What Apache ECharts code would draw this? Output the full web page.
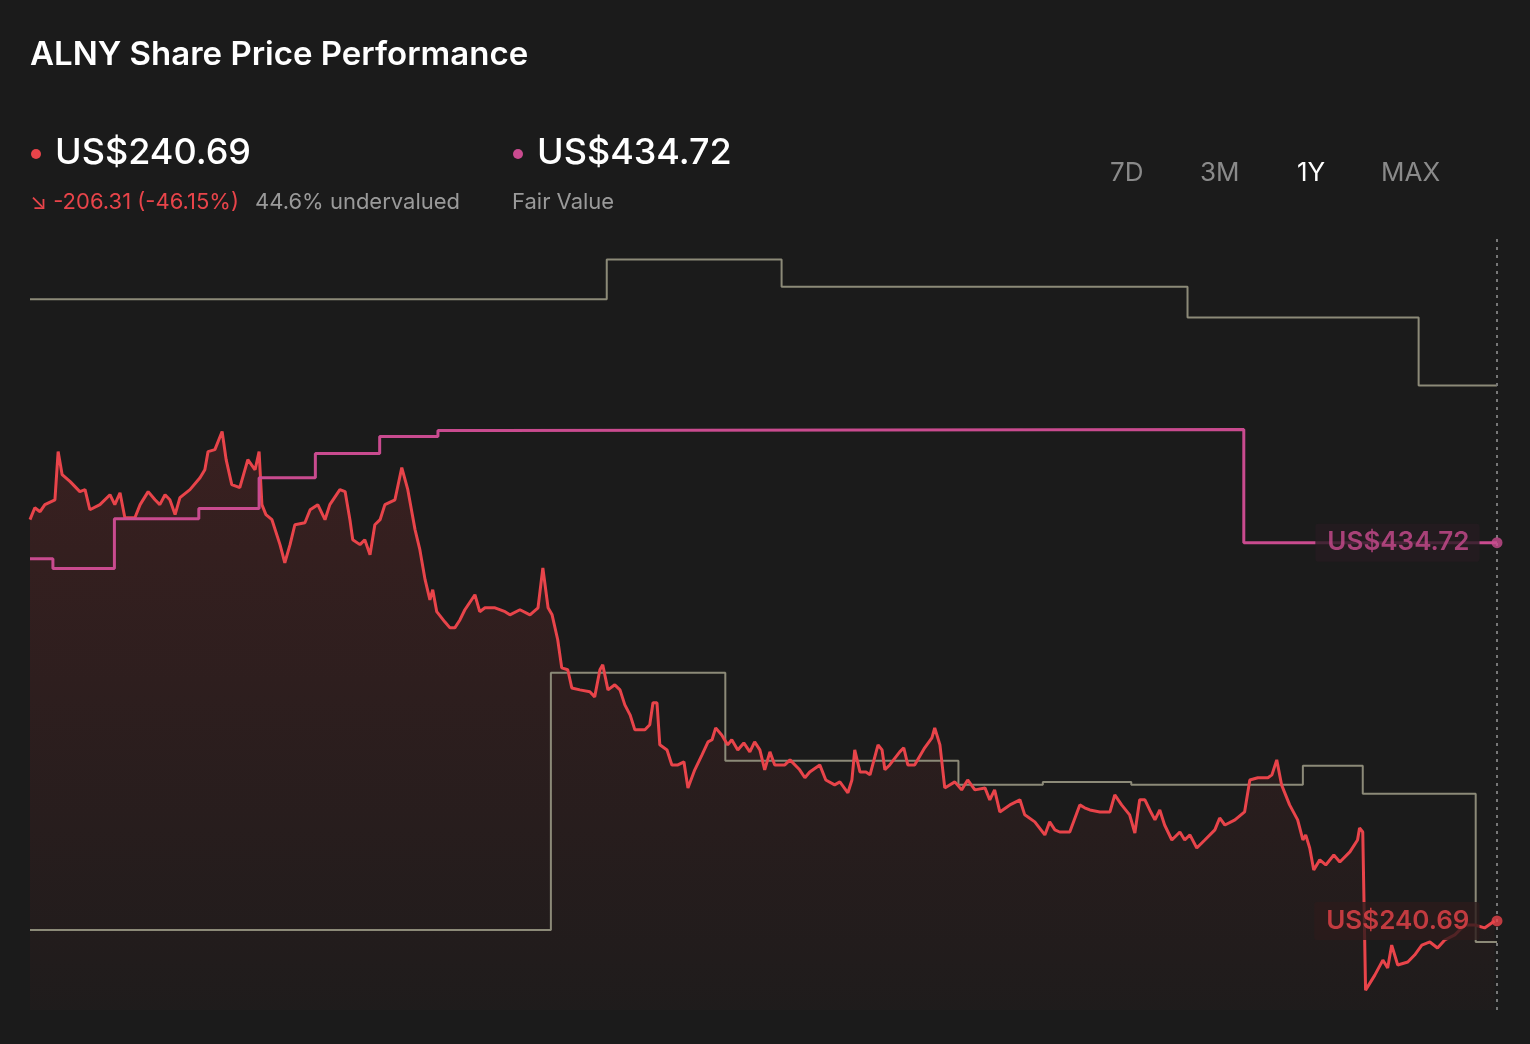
<!DOCTYPE html>
<html><head><meta charset="utf-8">
<script src="https://cdn.jsdelivr.net/npm/echarts@6/dist/echarts.min.js"></script>
<style>html,body{margin:0;background:#1b1b1b}#c{width:1530px;height:1044px}</style>
</head><body><div id="c"></div>
<script>
const priceDays=[0,1.2,2.5,3.7,6.2,7,8,10,12.4,13.7,14.9,17.4,19.9,21.1,22.4,23.6,26.1,27.4,29.4,31.1,32.3,33.6,34.8,36.1,37.3,39.8,42.3,43.5,44.3,46,47.8,48.8,50.2,52.2,54.2,56,57,57.7,58.7,60.2,62.2,63.4,64.7,65.9,68.4,69.7,71.6,73.4,74.6,77.1,78.4,79.6,80.3,82.1,83.3,84.6,85.8,87.1,88.3,90.8,92.5,94,95.8,97,98.3,99.5,100.2,101.2,103.2,104.5,105.7,107,108.2,110.7,111.9,113.2,115.7,118.2,119.4,121.9,124.4,126.4,127.6,128.9,129.9,131.3,132.3,133.8,134.8,136.8,139.3,140.5,141.8,142.5,143.8,145.5,146.8,148,149.3,150.5,153,154.2,155,156,156.7,158.5,159.7,161.2,162.7,163.7,165.4,167.2,168.7,169.7,170.6,172.1,173.6,174.6,176.1,177.6,179.1,180.3,181.6,182.8,184.1,185.3,187.8,189.1,191.5,192.8,194,196.5,198,200.2,201.5,203.5,204.5,205.2,206.5,208,209,211,212,212.7,213.9,216.4,217.4,218.4,220.1,222.6,224.4,225.1,226.4,227.6,230.1,231.8,233.3,235.1,237.6,238.8,240,241.3,243.8,246.3,247.5,250,252.5,253.7,255,256.2,258.7,261.2,262.4,263.7,266.2,268.7,269.9,271.6,273.6,274.9,276.1,277.4,278.6,279.9,281.1,282.3,284.1,286.1,287.3,288.6,290.3,292.3,294.8,296,297.3,299.8,302.2,303.5,305.5,308,309,310.2,311.4,313.4,315.4,316.7,317.4,318.4,319.4,320.9,322.4,324.4,325.9,328.4,330.3,330.8,331.6,332.3,334.6,336.6,337.8,338.8,340.3,342.8,344.5,346.3,348.3,350.2,352,354.5,357,359.5,361.9,364.4];
const priceValues=[446.5,452.6,450.6,454.2,456.7,481.4,469.6,466.0,460.9,461.9,451.6,454.2,459.3,454.2,460.3,447.5,447.5,454.2,460.9,456.7,454.2,459.3,456.7,449.1,457.8,461.9,468.0,472.1,481.4,482.4,491.7,477.3,464.5,462.9,477.3,472.1,481.4,454.2,449.1,446.5,433.7,424.4,433.7,443.9,444.9,451.6,454.2,446.5,454.2,461.9,460.9,446.5,436.2,433.7,436.2,428.5,443.9,446.5,454.2,456.7,473.2,461.9,441.4,431.1,415.7,405.4,410.6,399.3,394.1,391.0,391.0,395.2,400.3,408.0,399.3,401.3,401.3,399.3,397.7,400.3,397.7,401.3,421.8,401.3,397.7,384.9,370.5,369.5,360.2,359.2,358.2,355.6,369.5,372.1,359.2,361.8,359.2,351.5,346.4,338.7,338.7,341.3,352.6,352.6,331.0,328.4,320.7,320.7,322.3,308.9,318.2,325.9,332.5,333.6,339.7,336.1,331.0,333.6,328.4,332.0,327.4,332.5,328.4,318.2,327.4,320.7,320.7,323.3,318.2,314.1,317.1,320.7,313.0,310.5,312.0,306.4,313.0,328.4,317.1,317.1,315.6,331.0,328.4,318.2,320.7,327.4,329.5,320.7,320.7,329.5,334.6,339.7,331.0,308.9,312.0,307.9,313.0,307.9,308.9,302.8,307.9,296.6,300.2,302.8,295.1,291.5,284.8,291.5,287.4,286.3,286.3,300.2,298.7,297.6,296.6,296.6,305.3,300.2,295.1,285.8,302.8,302.8,297.6,292.5,297.6,289.9,282.2,286.3,282.2,284.8,278.1,282.2,287.4,293.5,289.9,292.5,296.6,313.0,314.1,314.1,315.6,323.3,310.5,300.2,292.5,282.2,284.8,278.1,266.8,272.0,269.4,274.5,270.9,276.1,282.2,288.4,286.3,205.2,212.9,220.6,216.5,228.3,218.1,219.6,223.2,228.3,229.9,226.8,230.9,233.5,238.6,238.6,237.1,240.69];
const fvDays=[0,5.7,21,42,57,71,87,101.5,115.7,302,365];
const fvValues=[426.5,421.4,447,452.2,468,480.4,489.2,492.3,492.8,434.72,434.72];
const highDays=[0,143.5,187,288,345.5,365];
const highValues=[559.5,580,566,550.2,515.3,515.3];
const lowDays=[0,129.6,173,231,252,274,316.7,331.6,359.7,365];
const lowValues=[236,368,322.8,310.5,312,310.5,320.3,305.9,229.9,229.9];
const zip=(a,b)=>a.map((x,i)=>[x,b[i]]);
const RED='#e8444a',PINK='#c94b8f',GREY='#8c8a78';
const ch=echarts.init(document.getElementById('c'));
const F='Inter, "Noto Sans", sans-serif';
ch.setOption({
 backgroundColor:'#1b1b1b',animation:false,
 grid:{left:30,right:33,top:236,bottom:34},
 xAxis:{type:'value',min:0,max:365,show:false},
 yAxis:{type:'value',min:195,max:592,show:false},
 graphic:[
  {type:'text',left:30,top:39,style:{text:'ALNY Share Price Performance',fill:'#fff',font:'600 33px '+F}},
  {type:'circle',shape:{cx:36,cy:154,r:5},style:{fill:RED}},
  {type:'text',left:55,top:135,style:{text:'US$240.69',fill:'#fff',font:'500 36px '+F}},
  {type:'text',left:30,top:191,style:{text:'↘ -206.31 (-46.15%)',fill:RED,font:'22px '+F}},
  {type:'text',left:255,top:191,style:{text:'44.6% undervalued',fill:'#9a9a9a',font:'22px '+F}},
  {type:'circle',shape:{cx:518,cy:154,r:5},style:{fill:PINK}},
  {type:'text',left:537,top:135,style:{text:'US$434.72',fill:'#fff',font:'500 36px '+F}},
  {type:'text',left:512,top:191,style:{text:'Fair Value',fill:'#9a9a9a',font:'22px '+F}},
  {type:'text',left:1110,top:160,style:{text:'7D',fill:'#8a8a8a',font:'26px '+F}},
  {type:'text',left:1200,top:160,style:{text:'3M',fill:'#8a8a8a',font:'26px '+F}},
  {type:'text',left:1297,top:160,style:{text:'1Y',fill:'#fff',font:'26px '+F}},
  {type:'text',left:1381,top:160,style:{text:'MAX',fill:'#8a8a8a',font:'26px '+F}}
 ],
 series:[
  {type:'line',step:'end',data:zip(highDays,highValues),symbol:'none',lineStyle:{color:GREY,width:2}},
  {type:'line',step:'end',data:zip(lowDays,lowValues),symbol:'none',lineStyle:{color:GREY,width:2}},
  {type:'line',data:zip(priceDays,priceValues),symbol:'none',lineStyle:{color:RED,width:3},
   areaStyle:{origin:'start',color:new echarts.graphic.LinearGradient(0,0,0,1,[{offset:0,color:'rgba(200,55,55,0.25)'},{offset:1,color:'rgba(200,55,55,0.03)'}])},
   markLine:{silent:true,symbol:'none',label:{show:false},lineStyle:{color:'#777',type:[3,5],width:2},data:[{xAxis:365}]}},
  {type:'line',step:'end',data:zip(fvDays,fvValues),symbol:'none',lineStyle:{color:PINK,width:3}},
  {type:'scatter',z:20,zlevel:1,data:[[365,434.72]],symbolSize:11,itemStyle:{color:PINK},
   label:{show:true,position:'left',distance:12,formatter:'US$434.72',color:PINK,fontSize:26,fontWeight:600,fontFamily:F,backgroundColor:'#261b21',padding:[6,10,6,12],borderRadius:3}},
  {type:'scatter',z:20,zlevel:1,data:[[365,240.69]],symbolSize:11,itemStyle:{color:RED},
   label:{show:true,position:'left',distance:12,formatter:'US$240.69',color:RED,fontSize:26,fontWeight:600,fontFamily:F,backgroundColor:'#2c1b1c',padding:[6,10,6,12],borderRadius:3}}
 ]
});
</script></body></html>
